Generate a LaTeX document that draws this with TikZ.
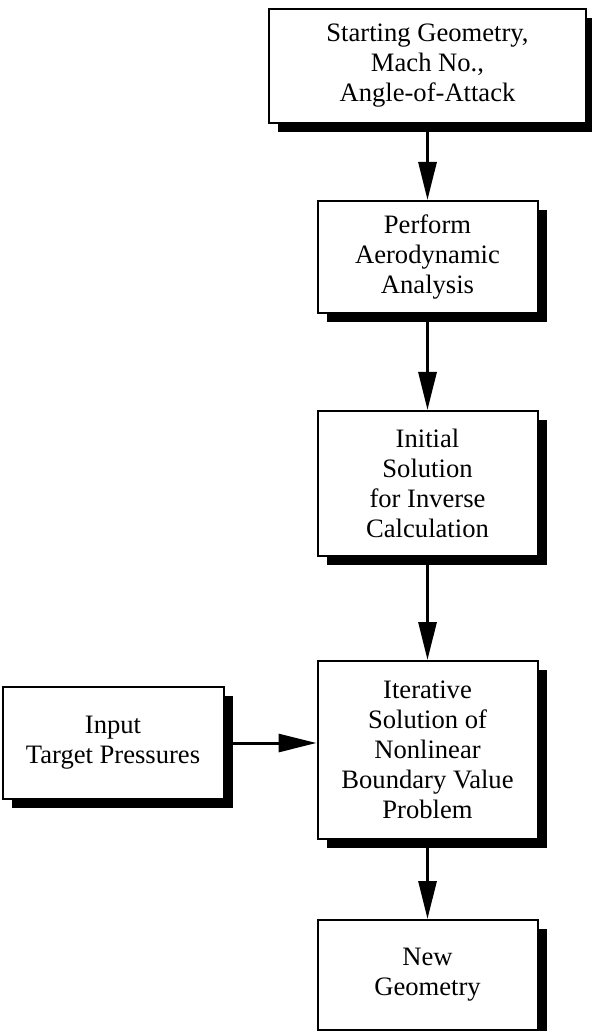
\documentclass[tikz,border=0pt]{standalone}
\usepackage{fontspec}
\setmainfont{Liberation Serif}
\usetikzlibrary{positioning, arrows.meta, shadows}
\tikzset{
  box1/.style = {
    shape = rectangle,
    draw = black,
    line width = 1pt,
    fill = white,
    align = center,
    inner sep = 0pt,
    minimum width = 110pt,
    font = \fontsize{13.3}{15}\selectfont,
    drop shadow = {shadow xshift = 4.5pt, shadow yshift = -4.5pt, fill = black, opacity = 1},
  }
}
\tikzset{
  arrow1/.style = {
    draw = black, line width = 1.5pt, -{Triangle[length = 19pt, width = 9pt]},
  }
}

\begin{document}
\begin{tikzpicture}
        \useasboundingbox (0,0) rectangle (295.5pt,-515.5pt);
        \node[box1, minimum width = 158.5pt, minimum height = 57pt] (1) at (213.75pt,-33pt) {Starting Geometry,\\Mach No.,\\Angle-of-Attack};
        \node[box1, minimum height = 56pt, below = 38pt of 1] (2) {Perform\\Aerodynamic\\Analysis};
        \node[box1, minimum height = 72.5pt, below = 48pt of 2] (3) {Initial\\Solution\\for Inverse\\Calculation};
        \node[box1, minimum height = 89pt, below = 51.5pt of 3] (4) {Iterative\\Solution of\\Nonlinear\\Boundary Value\\Problem};
        \node[box1, minimum width = 110.5pt, minimum height = 56pt, left = 46pt of 4, yshift = 3.5pt] (5) {Input\\Target Pressures};
        \node[box1, minimum height = 55pt, below = 39.5pt of 4] (6) {New\\Geometry};
        \draw[arrow1](1) -- (2);
        \draw[arrow1](2) -- (3);
        \draw[arrow1](3) -- (4);
        \draw[arrow1](5.east) -- (5.east -| 4.west);
        \draw[arrow1](4) -- (6);
    \end{tikzpicture}
\end{document}
